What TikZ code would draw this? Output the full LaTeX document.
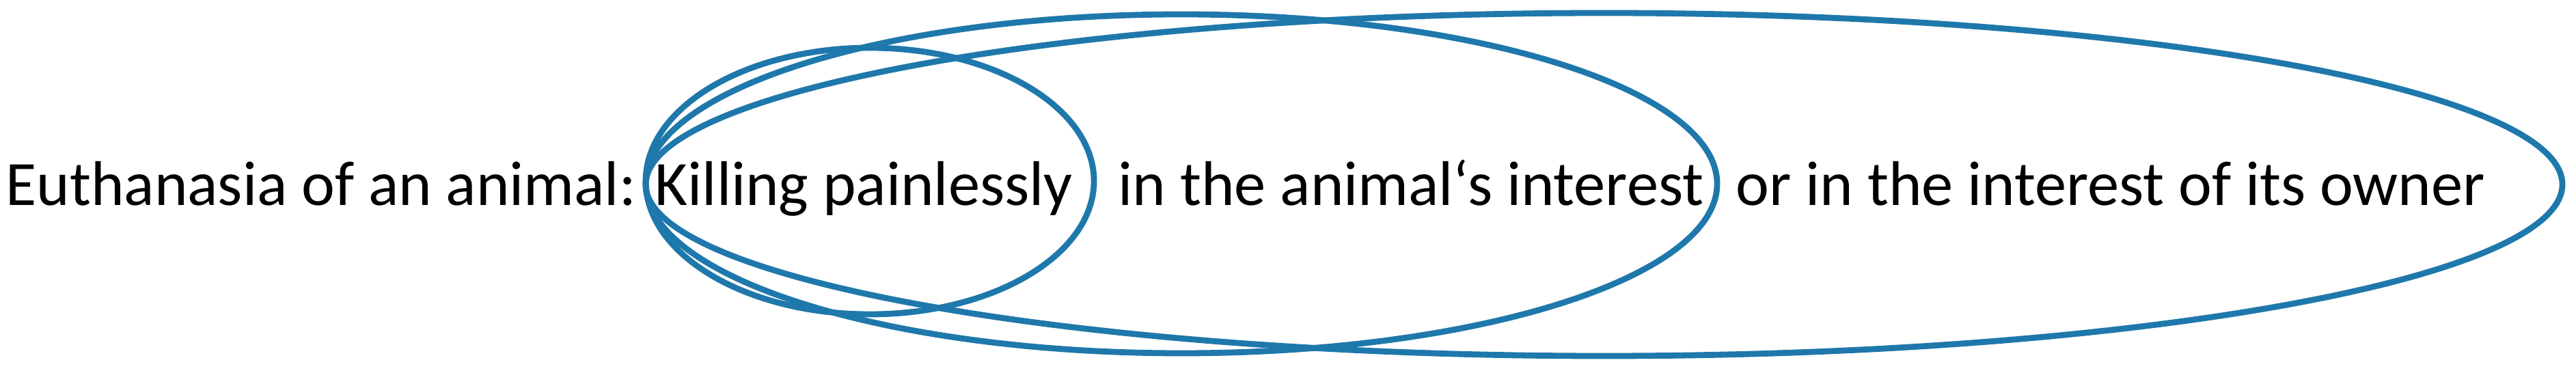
\documentclass[tikz,border=0pt]{standalone}
\usepackage{fontspec}
\setmainfont{Carlito}
\definecolor{ringblue}{RGB}{31,120,171}
\begin{document}
\begin{tikzpicture}[
  lbl/.style={inner sep=0pt, anchor=base west, font=\fontsize{26.3pt}{30pt}\selectfont, text=black},
  ring/.style={draw=ringblue, line width=2.5pt}
]
\useasboundingbox (0,0) rectangle (37.70,5.43);
% text
\node[lbl] (t1) at (0.08,2.42) {Euthanasia of an animal:};
\node[lbl] (t2) at (9.58,2.42) {Killing painlessly};
\node[lbl] (t3) at (16.36,2.42) {in the animal‘s interest};
\node[lbl] (t4) at (25.40,2.42) {or in the interest of its owner};
% ellipses
\coordinate (c1) at (12.73,2.78);
\coordinate (c2) at (17.29,2.74);
\coordinate (c3) at (23.475,2.73);
\draw[ring] (c1) ellipse [x radius=3.28, y radius=1.95];
\draw[ring] (c2) ellipse [x radius=7.84, y radius=2.48];
\draw[ring] (c3) ellipse [x radius=14.025, y radius=2.51];
\end{tikzpicture}
\end{document}
